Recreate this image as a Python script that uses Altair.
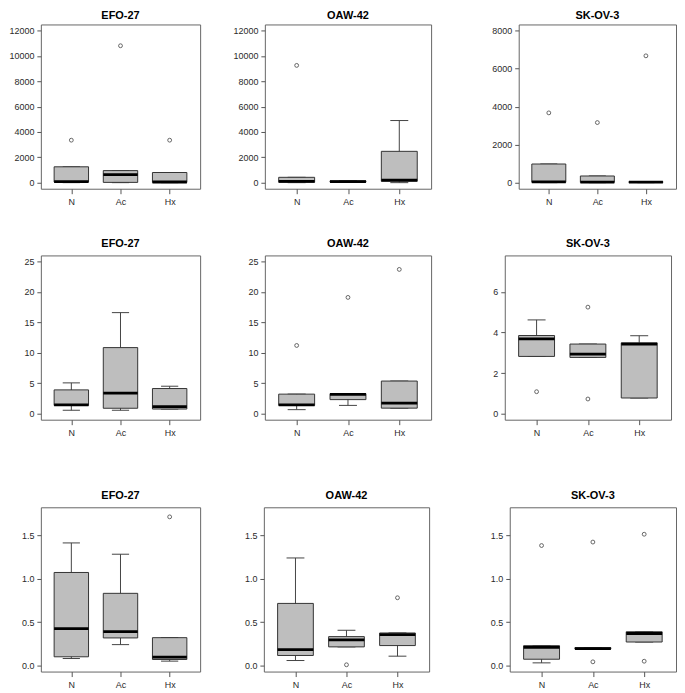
import altair as alt
import pandas as pd

groups = ["N", "Ac", "Hx"]
cells = ["EFO-27", "OAW-42", "SK-OV-3"]

# ---- Row 1 ----
efo1_lo = [0, 0, 0]
efo1_q1 = [50, 20, 20]
efo1_med = [80, 630, 50]
efo1_q3 = [1250, 950, 800]
efo1_hi = [1250, 950, 800]
efo1_out = [[3350], [10800], [3350]]

oaw1_lo = [0, 20, 0]
oaw1_q1 = [30, 40, 105]
oaw1_med = [105, 80, 200]
oaw1_q3 = [420, 140, 2470]
oaw1_hi = [420, 160, 4900]
oaw1_out = [[9250], [], []]

sko1_lo = [0, 0, 0]
sko1_q1 = [20, 15, 10]
sko1_med = [40, 30, 30]
sko1_q3 = [980, 350, 50]
sko1_hi = [980, 350, 60]
sko1_out = [[3670], [3160], [6670]]

# ---- Row 2 ----
efo2_lo = [0.55, 0.55, 0.75]
efo2_q1 = [1.35, 0.88, 0.75]
efo2_med = [1.42, 3.35, 1.15]
efo2_q3 = [3.9, 10.85, 4.12]
efo2_hi = [5.05, 16.6, 4.5]
efo2_out = [[], [], []]

oaw2_lo = [0.65, 1.35, 0.88]
oaw2_q1 = [1.35, 2.3, 0.9]
oaw2_med = [1.45, 3.15, 1.72]
oaw2_q3 = [3.2, 3.28, 5.35]
oaw2_hi = [3.2, 3.28, 5.35]
oaw2_out = [[11.2], [19.1], [23.7]]

sko2_lo = [2.82, 2.77, 0.77]
sko2_q1 = [2.82, 2.77, 0.77]
sko2_med = [3.69, 2.93, 3.43]
sko2_q3 = [3.85, 3.43, 3.49]
sko2_hi = [4.62, 3.43, 3.84]
sko2_out = [[1.08], [5.25, 0.72], []]

# ---- Row 3 ----
efo3_lo = [0.08, 0.24, 0.05]
efo3_q1 = [0.10, 0.317, 0.069]
efo3_med = [0.424, 0.39, 0.095]
efo3_q3 = [1.07, 0.83, 0.32]
efo3_hi = [1.41, 1.28, 0.32]
efo3_out = [[], [], [1.71]]

oaw3_lo = [0.057, 0.214, 0.107]
oaw3_q1 = [0.115, 0.214, 0.229]
oaw3_med = [0.183, 0.294, 0.355]
oaw3_q3 = [0.714, 0.332, 0.374]
oaw3_hi = [1.237, 0.405, 0.374]
oaw3_out = [[], [0.008], [0.779]]

sko3_lo = [0.03, 0.19, 0.27]
sko3_q1 = [0.072, 0.19, 0.27]
sko3_med = [0.209, 0.195, 0.368]
sko3_q3 = [0.228, 0.205, 0.388]
sko3_hi = [0.228, 0.205, 0.388]
sko3_out = [[1.38], [1.42, 0.042], [1.51, 0.049]]

# y axis settings per row
row1_dom_big = [-480, 12480]
row1_ticks_big = [0, 2000, 4000, 6000, 8000, 10000, 12000]
row1_dom_sko = [-320, 8320]
row1_ticks_sko = [0, 2000, 4000, 6000, 8000]
row2_dom_big = [-1, 26]
row2_ticks_big = [0, 5, 10, 15, 20, 25]
row2_dom_sko = [-0.3, 7.8]
row2_ticks_sko = [0, 2, 4, 6]
row3_dom = [-0.07, 1.82]
row3_ticks = [0, 0.5, 1.0, 1.5]

FONT = "Liberation Sans"
H = 165
YEXT = 32
label_expr = "[" + ",".join("'%s'" % g for g in groups) + "][datum.value - 1]"


def panel(title, lo, q1, med, q3, hi, outs, ydom, yticks, yfmt, width, toff=6):
    df = pd.DataFrame({"pos": [1, 2, 3], "group": groups, "lo": lo, "q1": q1,
                       "med": med, "q3": q3, "hi": hi})
    rows = [{"pos": i + 1, "v": v} for i, o in enumerate(outs) for v in o]
    odf = pd.DataFrame(rows, columns=["pos", "v"])
    xs = alt.Scale(domain=[0.38, 3.62], nice=False, zero=False)
    ys = alt.Scale(domain=ydom, nice=False, zero=False)
    xax = alt.Axis(values=[1, 2, 3], labelExpr=label_expr, title=None, grid=False,
                   domain=False, tickSize=5, labelPadding=4, minExtent=19,
                   labelFontSize=9, labelColor="#2a2a2a", tickColor="#555",
                   labelFont=FONT)
    yax = alt.Axis(values=yticks, format=yfmt, title=None, grid=False, domain=False,
                   tickSize=4, labelPadding=3, minExtent=YEXT, labelFontSize=9,
                   labelColor="#2a2a2a", tickColor="#555", labelFont=FONT)

    base = alt.Chart(df).transform_calculate(
        left="datum.pos - 0.35", right="datum.pos + 0.35",
        cl="datum.pos - 0.175", cr="datum.pos + 0.175")

    whisk = base.mark_rule(color="#444", strokeWidth=1).encode(
        x=alt.X("pos:Q", scale=xs, axis=xax),
        y=alt.Y("lo:Q", scale=ys, axis=yax), y2="hi:Q")
    cap_lo = base.mark_rule(color="#444", strokeWidth=1).encode(
        x=alt.X("cl:Q", scale=xs, axis=xax), x2="cr:Q",
        y=alt.Y("lo:Q", scale=ys, axis=yax))
    cap_hi = base.mark_rule(color="#444", strokeWidth=1).encode(
        x=alt.X("cl:Q", scale=xs, axis=xax), x2="cr:Q",
        y=alt.Y("hi:Q", scale=ys, axis=yax))
    box = base.mark_rect(fill="#BEBEBE", stroke="#333", strokeWidth=1).encode(
        x=alt.X("left:Q", scale=xs, axis=xax), x2="right:Q",
        y=alt.Y("q1:Q", scale=ys, axis=yax), y2="q3:Q")
    medl = base.mark_rule(color="black", strokeWidth=2.8).encode(
        x=alt.X("left:Q", scale=xs, axis=xax), x2="right:Q",
        y=alt.Y("med:Q", scale=ys, axis=yax))
    pts = alt.Chart(odf).mark_point(shape="circle", filled=False, size=15,
                                    color="#444", strokeWidth=0.8, opacity=1).encode(
        x=alt.X("pos:Q", scale=xs, axis=xax),
        y=alt.Y("v:Q", scale=ys, axis=yax))

    return alt.layer(whisk, cap_lo, cap_hi, box, medl, pts).properties(
        width=width, height=H,
        title=alt.TitleParams(title, fontSize=11, fontWeight="bold", frame="group",
                              anchor="middle", offset=toff, font=FONT, color="black"))


p11 = panel(cells[0], efo1_lo, efo1_q1, efo1_med, efo1_q3, efo1_hi, efo1_out,
            row1_dom_big, row1_ticks_big, "d", 160, toff=3)
p12 = panel(cells[1], oaw1_lo, oaw1_q1, oaw1_med, oaw1_q3, oaw1_hi, oaw1_out,
            row1_dom_big, row1_ticks_big, "d", 167, toff=3)
p13 = panel(cells[2], sko1_lo, sko1_q1, sko1_med, sko1_q3, sko1_hi, sko1_out,
            row1_dom_sko, row1_ticks_sko, "d", 158, toff=3)

p21 = panel(cells[0], efo2_lo, efo2_q1, efo2_med, efo2_q3, efo2_hi, efo2_out,
            row2_dom_big, row2_ticks_big, "d", 160)
p22 = panel(cells[1], oaw2_lo, oaw2_q1, oaw2_med, oaw2_q3, oaw2_hi, oaw2_out,
            row2_dom_big, row2_ticks_big, "d", 167)
p23 = panel(cells[2], sko2_lo, sko2_q1, sko2_med, sko2_q3, sko2_hi, sko2_out,
            row2_dom_sko, row2_ticks_sko, "d", 167)

p31 = panel(cells[0], efo3_lo, efo3_q1, efo3_med, efo3_q3, efo3_hi, efo3_out,
            row3_dom, row3_ticks, ".1f", 160)
p32 = panel(cells[1], oaw3_lo, oaw3_q1, oaw3_med, oaw3_q3, oaw3_hi, oaw3_out,
            row3_dom, row3_ticks, ".1f", 166)
p33 = panel(cells[2], sko3_lo, sko3_q1, sko3_med, sko3_q3, sko3_hi, sko3_out,
            row3_dom, row3_ticks, ".1f", 167)

row1 = alt.hconcat(alt.hconcat(p11, p12, spacing=31), p13, spacing=54)
row2 = alt.hconcat(alt.hconcat(p21, p22, spacing=31), p23, spacing=40)
row3 = alt.hconcat(alt.hconcat(p31, p32, spacing=30), p33, spacing=47)

chart = alt.vconcat(alt.vconcat(row1, row2, spacing=29), row3, spacing=50).properties(
    padding={"left": 0, "top": 0, "right": 0, "bottom": 0}
).configure(background="white").configure_view(stroke="#666", strokeWidth=1)

chart.save("out.html", embed_options={"renderer": "svg", "actions": False})
